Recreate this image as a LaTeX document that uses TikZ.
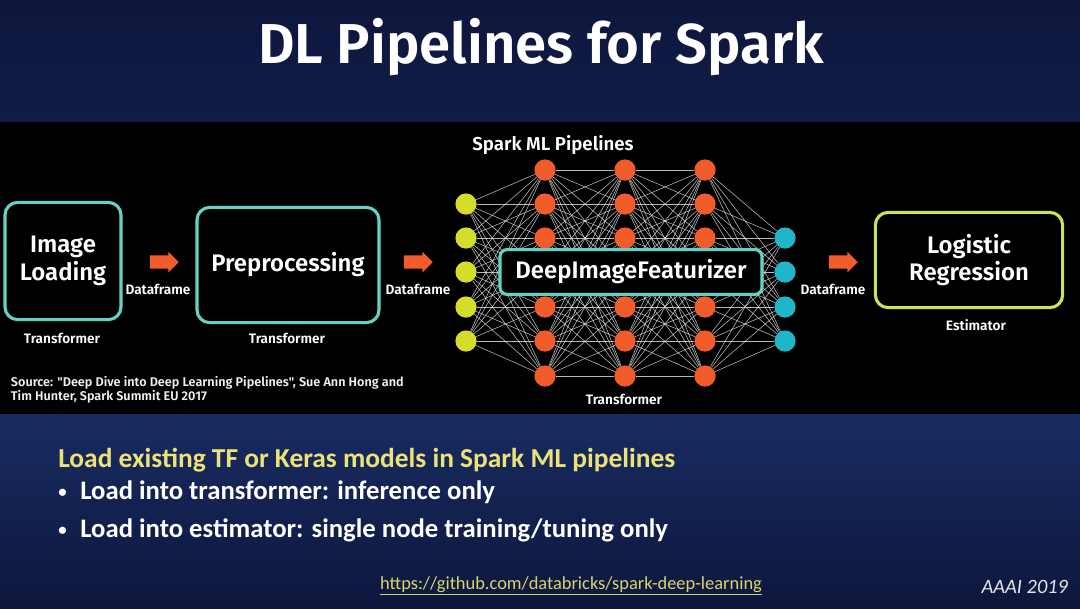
\documentclass[tikz,border=0pt]{standalone}
\usepackage{fontspec}
\setmainfont{Fira Sans}
\newfontfamily\semifont{Fira Sans SemiBold}
\newfontfamily\slidefont{Carlito}
\usetikzlibrary{shapes.arrows}
\definecolor{topnavy}{RGB}{14,22,60}
\definecolor{botnavy}{RGB}{24,44,98}
\definecolor{boxteal}{RGB}{100,210,195}
\definecolor{boxlime}{RGB}{205,228,80}
\definecolor{inyellow}{RGB}{212,222,42}
\definecolor{hidorange}{RGB}{242,92,42}
\definecolor{outcyan}{RGB}{30,182,200}
\definecolor{headyellow}{RGB}{236,226,120}
\definecolor{urlyellow}{RGB}{214,214,110}

\begin{document}
\begin{tikzpicture}[x=0.025cm,y=-0.025cm,
    pipebox/.style={draw=boxteal,line width=2.2pt,rounded corners=9pt,fill=black,
      text=white,align=center,font=\semifont\fontsize{17}{19.5}\selectfont},
    lbl/.style={text=white,font=\semifont\fontsize{9.7}{11}\selectfont},
    neuron/.style={circle,inner sep=0pt,minimum size=0.53cm},
    flow/.style={single arrow,fill=hidorange,inner sep=0.16cm,minimum height=0.72cm,
      single arrow head extend=0.09cm},
    link/.style={draw=white!80!gray,line width=0.4pt,opacity=0.8},
    slide/.style={anchor=west,inner sep=0pt,font=\slidefont\fontsize{19.5}{22}\selectfont\bfseries}]
    % background bands
    \useasboundingbox (0,0) rectangle (1080,608);
    \shade[top color=topnavy,bottom color=topnavy!70!botnavy] (0,0) rectangle (1080,122);
    \fill[black] (0,122) rectangle (1080,414);
    \shade[top color=botnavy,bottom color=topnavy] (0,414) rectangle (1080,608);

    \node[text=white,font=\semifont\fontsize{40}{44}\selectfont] (title) at (541,47) {DL Pipelines for Spark};

    % network
    \foreach \r [count=\i] in {204,238,272,307,341}
        \node[neuron,fill=inyellow] (in\i) at (466,\r) {};
    \foreach \c [count=\l] in {545,625,705}
        \foreach \r [count=\i] in {170,204,238,272,307,341,376}
            \node[neuron,fill=hidorange] (h\l-\i) at (\c,\r) {};
    \foreach \r [count=\i] in {238,272,307,341}
        \node[neuron,fill=outcyan] (out\i) at (785,\r) {};

    \foreach \i in {1,...,5}
        \foreach \j in {1,...,7} \draw[link] (in\i) -- (h1-\j);
    \foreach \l/\m in {1/2,2/3}
        \foreach \i in {1,...,7}
            \foreach \j in {1,...,7} \draw[link] (h\l-\i) -- (h\m-\j);
    \foreach \i in {1,...,7}
        \foreach \j in {1,...,4} \draw[link] (h3-\i) -- (out\j);

    \node[pipebox,rounded corners=5pt,minimum width=6.55cm,minimum height=1.12cm] (featurizer) at (631,272) {DeepImageFeaturizer};

    % pipeline stages
    \node[pipebox,minimum width=2.9cm,minimum height=2.93cm] (loading) at (63,261) {Image\\Loading};
    \node[pipebox,minimum width=4.55cm,minimum height=2.88cm] (preproc) at (288,265) {Preprocessing};
    \node[pipebox,draw=boxlime,minimum width=4.68cm,minimum height=2.38cm] (logreg) at (969,260) {Logistic\\Regression};

    \node[flow] (arr1) at (161,262) {};
    \node[flow] (arr2) at (415,262) {};
    \node[flow] (arr3) at (840,262) {};

    \node[lbl] (df1) at (158,289) {Dataframe};
    \node[lbl] (df2) at (418,289) {Dataframe};
    \node[lbl] (df3) at (833,289) {Dataframe};
    \node[lbl] (tr1) at (62,338) {Transformer};
    \node[lbl] (tr2) at (287,338) {Transformer};
    \node[lbl] (tr3) at (624,399) {Transformer};
    \node[lbl] (est) at (976,325) {Estimator};
    \node[lbl,font=\semifont\fontsize{13.3}{15}\selectfont] (sparkml) at (553,145) {Spark ML Pipelines};
    \node[lbl,anchor=north west,align=left,text=white!88!gray,font=\semifont\fontsize{9}{10.3}\selectfont] (source) at (6,371)
        {Source: "Deep Dive into Deep Learning Pipelines", Sue Ann Hong and\\Tim Hunter, Spark Summit EU 2017};

    % bullet text
    \node[slide,text=headyellow] (head) at (58,460) {Load existing TF or Keras models in Spark ML pipelines};
    \node[slide,text=white,font=\slidefont\fontsize{19}{22}\selectfont\bfseries] (b1) at (58,492)
        {\makebox[0.55cm][l]{\raisebox{1pt}{\fontsize{12}{12}\selectfont\textbullet}}Load into transformer: inference only};
    \node[slide,text=white,font=\slidefont\fontsize{19}{22}\selectfont\bfseries] (b2) at (58,530)
        {\makebox[0.55cm][l]{\raisebox{1pt}{\fontsize{12}{12}\selectfont\textbullet}}Load into estimator: single node training/tuning only};
    \node[text=urlyellow,font=\slidefont\fontsize{13.1}{15}\selectfont] (url) at (571,586) {\underline{https://github.com/databricks/spark-deep-learning}};
    \node[anchor=east,text=white!80!gray,font=\slidefont\fontsize{14.5}{16}\selectfont\itshape] (conf) at (1073,587) {AAAI 2019};
\end{tikzpicture}
\end{document}
